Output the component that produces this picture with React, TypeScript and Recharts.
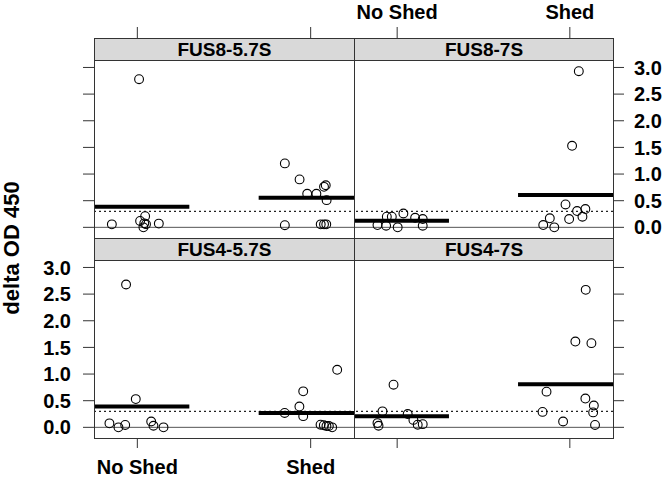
import { ScatterChart, Scatter, XAxis, YAxis, ReferenceLine } from 'recharts';

const groups = ['No Shed', 'Shed'];
const yTicks = [0, 0.5, 1, 1.5, 2, 2.5, 3];
const cutoff = 0.3;

// [jitter from group centre, delta OD 450]
type Pt = [number, number];

const fus857NoShed: Pt[] = [
  [-0.147, 0.056], [0.01, 2.78], [0.016, 0.12], [0.045, 0.21], [0.04, 0.075],
  [0.035, 0.0], [0.05, 0.06], [0.124, 0.07],
];
const fus857Shed: Pt[] = [
  [-0.149, 0.04], [-0.149, 1.2], [-0.064, 0.9], [-0.02, 0.63], [0.033, 0.63],
  [0.077, 0.76], [0.087, 0.79], [0.092, 0.51], [0.058, 0.056], [0.077, 0.056], [0.09, 0.056],
];
const fus87NoShed: Pt[] = [
  [-0.114, 0.043], [-0.064, 0.03], [-0.06, 0.2], [-0.031, 0.2], [0.003, 0.0],
  [0.036, 0.26], [0.104, 0.18], [0.148, 0.156], [0.148, 0.03],
];
const fus87Shed: Pt[] = [
  [-0.154, 0.043], [-0.116, 0.17], [-0.09, 0.0], [-0.025, 0.43], [-0.004, 0.156],
  [0.013, 1.53], [0.052, 2.93], [0.042, 0.306], [0.09, 0.343], [0.073, 0.2],
];
const fus457NoShed: Pt[] = [
  [-0.161, 0.075], [-0.109, 0.0], [-0.07, 0.045], [-0.065, 2.68], [-0.009, 0.53],
  [0.08, 0.11], [0.093, 0.03], [0.151, 0.0],
];
const fus457Shed: Pt[] = [
  [-0.15, 0.27], [-0.065, 0.39], [-0.043, 0.675], [-0.043, 0.21], [0.153, 1.08],
  [0.057, 0.05], [0.076, 0.04], [0.091, 0.025], [0.105, 0.025], [0.124, 0.0],
];
const fus47NoShed: Pt[] = [
  [-0.114, 0.08], [-0.108, 0.03], [-0.085, 0.3], [-0.021, 0.8], [0.061, 0.25],
  [0.094, 0.14], [0.119, 0.05], [0.148, 0.06],
];
const fus47Shed: Pt[] = [
  [-0.158, 0.29], [-0.135, 0.67], [-0.039, 0.11], [0.032, 1.61], [0.092, 2.58],
  [0.09, 0.54], [0.125, 1.58], [0.139, 0.41], [0.135, 0.28], [0.146, 0.045],
];

const fus857Means = [0.386, 0.555];
const fus87Means = [0.124, 0.606];
const fus457Means = [0.39, 0.27];
const fus47Means = [0.21, 0.81];

const W = 666;
const H = 477;
const AX = 40; // room reserved for each axis
const font = { fontFamily: '"Liberation Sans", Arial, sans-serif', fontWeight: 700, fontSize: 20, fill: '#000' };
const edge = '#333';

const rows = (g: number, pts: Pt[]) => pts.map(([dx, v]) => ({ x: g + 1 + dx, y: v }));

const Ring = (p: any) => <circle cx={p.cx} cy={p.cy} r={4.4} fill="none" stroke="#000" strokeWidth={1.1} />;

type PanelProps = {
  title: string;
  noShed: Pt[];
  shed: Pt[];
  means: number[];
  x0: number;
  x1: number;
  top: number;
  ySide: 'left' | 'right';
  xSide: 'top' | 'bottom';
  labels: boolean;
};

function Panel({ title, noShed, shed, means, x0, x1, top, ySide, xSide, labels }: PanelProps) {
  const plotTop = top + 22;
  const plotBottom = top + 200;
  const blank = () => '';
  const margin = {
    top: xSide === 'top' ? plotTop - AX : plotTop,
    bottom: xSide === 'bottom' ? H - plotBottom - AX : H - plotBottom,
    left: ySide === 'left' ? x0 - AX : x0,
    right: ySide === 'right' ? W - x1 - AX : W - x1,
  };
  return (
    <>
      <div style={{ position: 'absolute', left: 0, top: 0 }}>
        <ScatterChart width={W} height={H} margin={margin}>
          <XAxis
            type="number"
            dataKey="x"
            orientation={xSide}
            height={AX}
            domain={[0.75, 2.25]}
            ticks={[1, 2]}
            interval={0}
            allowDataOverflow
            axisLine={false}
            tickSize={xSide === 'top' ? 33 : 10}
            tickMargin={xSide === 'top' ? 8 : 12}
            tickLine={{ stroke: edge }}
            tick={font}
            tickFormatter={labels ? (v: number) => groups[v - 1] : blank}
          />
          <YAxis
            type="number"
            dataKey="y"
            orientation={ySide}
            width={AX}
            domain={[-0.2, 3.14]}
            ticks={yTicks}
            interval={0}
            allowDataOverflow
            axisLine={false}
            tickSize={11}
            tickMargin={ySide === 'left' ? 12 : 10}
            tickLine={{ stroke: edge }}
            tick={font}
            tickFormatter={labels ? (v: number) => v.toFixed(1) : blank}
          />
          <ReferenceLine y={0} stroke="#555" strokeWidth={1} />
          <ReferenceLine y={cutoff} stroke="#222" strokeWidth={1.3} strokeDasharray="2 3" />
          {means.map((m, i) => (
            <ReferenceLine
              key={i}
              segment={[{ x: i + 0.7, y: m }, { x: i + 1.3, y: m }]}
              stroke="#000"
              strokeWidth={4}
              ifOverflow="hidden"
            />
          ))}
          <Scatter data={rows(0, noShed)} shape={Ring} isAnimationActive={false} />
          <Scatter data={rows(1, shed)} shape={Ring} isAnimationActive={false} />
        </ScatterChart>
      </div>
      <div
        style={{
          position: 'absolute', left: x0, top, width: x1 - x0 + 1, height: 201,
          border: `1px solid ${edge}`, boxSizing: 'border-box', pointerEvents: 'none',
        }}
      />
      <div
        style={{
          position: 'absolute', left: x0, top, width: x1 - x0 + 1, height: 23,
          background: '#d9d9d9', border: `1px solid ${edge}`, boxSizing: 'border-box',
          textAlign: 'center', lineHeight: '21px', fontFamily: font.fontFamily, fontWeight: 700, fontSize: 19,
        }}
      >
        {title}
      </div>
    </>
  );
}

export default function App() {
  return (
    <div style={{ position: 'absolute', left: 0, top: 0, width: W, height: H, background: '#fff', overflow: 'hidden' }}>
      <Panel title="FUS8-5.7S" noShed={fus857NoShed} shed={fus857Shed} means={fus857Means}
        x0={94} x1={354} top={38} ySide="left" xSide="top" labels={false} />
      <Panel title="FUS8-7S" noShed={fus87NoShed} shed={fus87Shed} means={fus87Means}
        x0={354} x1={613} top={38} ySide="right" xSide="top" labels />
      <Panel title="FUS4-5.7S" noShed={fus457NoShed} shed={fus457Shed} means={fus457Means}
        x0={94} x1={354} top={238} ySide="left" xSide="bottom" labels />
      <Panel title="FUS4-7S" noShed={fus47NoShed} shed={fus47Shed} means={fus47Means}
        x0={354} x1={613} top={238} ySide="right" xSide="bottom" labels={false} />
      <div
        style={{
          position: 'absolute', left: 12, top: 248, transform: 'translate(-50%, -50%) rotate(-90deg)',
          whiteSpace: 'nowrap', fontFamily: font.fontFamily, fontWeight: 700, fontSize: 22,
        }}
      >
        delta OD 450
      </div>
    </div>
  );
}
